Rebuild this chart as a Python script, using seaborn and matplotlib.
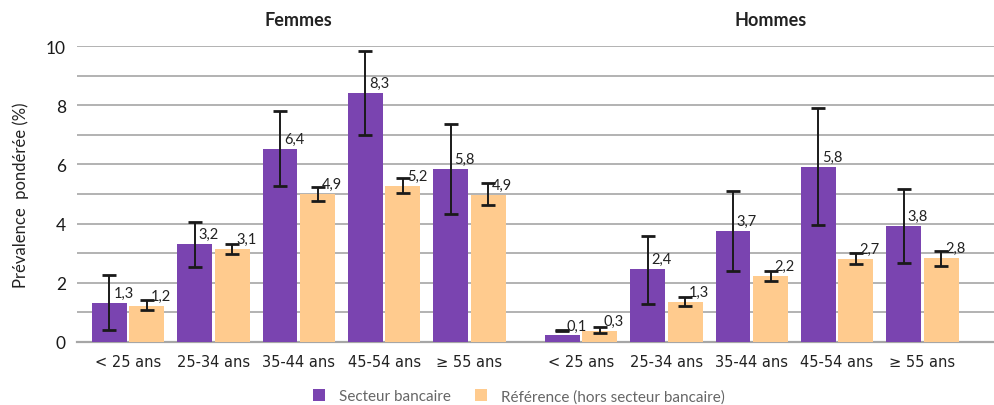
import numpy as np
import pandas as pd
import matplotlib
matplotlib.use("Agg")
import matplotlib.pyplot as plt
import seaborn as sns

# ---- data ----
age_groups = ["< 25 ans", "25-34 ans", "35-44 ans", "45-54 ans", "\u2265 55 ans"]
sexes = ["Femmes", "Hommes"]
series = ["Secteur bancaire", "Référence (hors secteur bancaire)"]

fem_bank = [1.33, 3.32, 6.53, 8.41, 5.84]
fem_ref = [1.23, 3.15, 5.01, 5.27, 4.97]
hom_bank = [0.22, 2.48, 3.76, 5.92, 3.93]
hom_ref = [0.38, 1.36, 2.24, 2.81, 2.85]

fem_bank_lo = [0.39, 2.52, 5.26, 6.98, 4.34]
fem_bank_hi = [2.25, 4.07, 7.81, 9.84, 7.37]
fem_ref_lo = [1.07, 2.96, 4.75, 5.03, 4.64]
fem_ref_hi = [1.41, 3.30, 5.24, 5.55, 5.38]
hom_bank_lo = [0.37, 1.29, 2.39, 3.94, 2.68]
hom_bank_hi = [0.40, 3.59, 5.09, 7.89, 5.16]
hom_ref_lo = [0.29, 1.20, 2.07, 2.64, 2.58]
hom_ref_hi = [0.49, 1.51, 2.39, 2.99, 3.09]

fem_bank_lbl = ["1,3", "3,2", "6,4", "8,3", "5,8"]
fem_ref_lbl = ["1,2", "3,1", "4,9", "5,2", "4,9"]
hom_bank_lbl = ["0,1", "2,4", "3,7", "5,8", "3,8"]
hom_ref_lbl = ["0,3", "1,3", "2,2", "2,7", "2,8"]

colors = ["#7A44B0", "#FFCB8E"]

# ---- layout of group positions ----
group_gap = 1.31
pos_f = list(range(5))
pos_h = [4 + group_gap + i for i in range(5)]

rows = []
for sex, pos, b, r, bl, bh, rl, rh, blab, rlab in [
    ("Femmes", pos_f, fem_bank, fem_ref, fem_bank_lo, fem_bank_hi, fem_ref_lo, fem_ref_hi, fem_bank_lbl, fem_ref_lbl),
    ("Hommes", pos_h, hom_bank, hom_ref, hom_bank_lo, hom_bank_hi, hom_ref_lo, hom_ref_hi, hom_bank_lbl, hom_ref_lbl),
]:
    for i in range(5):
        rows.append(dict(sex=sex, age=age_groups[i], x=pos[i], serie=series[0], val=b[i], lo=bl[i], hi=bh[i], lab=blab[i]))
        rows.append(dict(sex=sex, age=age_groups[i], x=pos[i], serie=series[1], val=r[i], lo=rl[i], hi=rh[i], lab=rlab[i]))
df = pd.DataFrame(rows)

sns.set_theme(style="white")
plt.rcParams["font.family"] = ["Lato", "DejaVu Sans"]

fig = plt.figure(figsize=(9.94, 4.06), dpi=100)
ax = fig.add_axes([77 / 994, 1 - 343 / 406, 1 - 77 / 994, (343 - 47) / 406])

sns.barplot(data=df, x="x", y="val", hue="serie", hue_order=series, palette=colors,
            native_scale=True, width=0.88, gap=0.07, errorbar=None, saturation=1,
            linewidth=0, legend=True, ax=ax, zorder=3)

# error bars and labels
bw = 0.88 / 2
for _, row in df.iterrows():
    off = -bw / 2 if row["serie"] == series[0] else bw / 2
    xc = row["x"] + off
    mid = (row["lo"] + row["hi"]) / 2
    err = (row["hi"] - row["lo"]) / 2
    ax.errorbar(xc, mid, yerr=err, fmt="none", ecolor="#1a1a1a", elinewidth=1.4,
                capsize=4.7, capthick=2.0, zorder=4)
    ax.text(xc + 0.045, row["val"] + 0.1, row["lab"], ha="left", va="bottom",
            fontsize=10.5, color="#222222", zorder=5)

ax.set_ylim(0, 10)
ax.set_xlim(-0.6, 10.15)
ax.set_yticks([0, 2, 4, 6, 8, 10])
ax.set_yticks(range(0, 11), minor=True)
ax.grid(axis="y", which="both", color="#a6a6a6", linewidth=1.2, zorder=0)
ax.set_axisbelow(True)
for s in ["top", "right", "left"]:
    ax.spines[s].set_visible(False)
ax.spines["bottom"].set_color("#a6a6a6")
ax.spines["bottom"].set_linewidth(1.6)
ax.tick_params(axis="both", which="both", length=0)
ax.tick_params(axis="y", labelsize=12.5, labelcolor="#1a1a1a", pad=8)

ax.set_xticks(pos_f + pos_h)
ax.set_xticklabels(age_groups + age_groups, fontsize=10.5, color="#222222",
                   family=["Liberation Sans Narrow", "DejaVu Sans"])
ax.tick_params(axis="x", pad=9)
ax.set_xlabel("")
ax.set_ylabel("Prévalence  pondérée (%)", fontsize=12, color="#222222", labelpad=12)

ax.text(2, 1.088, "Femmes", transform=ax.get_xaxis_transform(), ha="center",
        va="center", fontsize=13, fontweight="bold", color="#222222")
ax.text(7.53, 1.088, "Hommes", transform=ax.get_xaxis_transform(), ha="center",
        va="center", fontsize=13, fontweight="bold", color="#222222")

leg = ax.legend(loc="center", bbox_to_anchor=(0.482, -0.183), ncol=2, frameon=False,
                fontsize=11, handlelength=0.8, handleheight=0.8, columnspacing=1.6,
                handletextpad=0.9, borderaxespad=0)
for t in leg.get_texts():
    t.set_color("#666666")

fig.savefig("out.png", dpi=100)
